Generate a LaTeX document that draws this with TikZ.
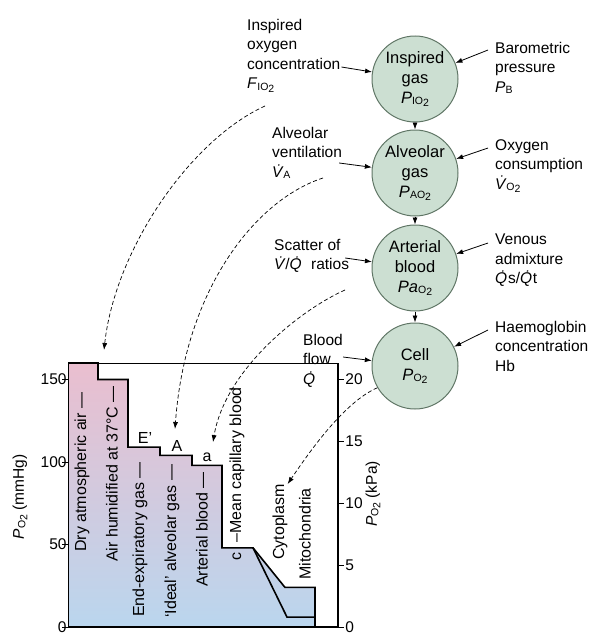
\documentclass[tikz,border=0pt]{standalone}
\usepackage{fontspec}
\setmainfont{Liberation Sans}
\usetikzlibrary{arrows.meta,calc}
\definecolor{cellgreen}{RGB}{204,223,210}
\definecolor{cellrim}{RGB}{96,118,102}
\definecolor{airpink}{RGB}{234,190,207}
\definecolor{tissueblue}{RGB}{186,214,238}
% partial pressure with small subscript, e.g. P_IO2
\newcommand\gp[2]{\textit{#1}{\fontsize{10.5}{10.5}\selectfont\raisebox{-1.5pt}{#2}\raisebox{-3.5pt}{2}}}
\newcommand\gs[2]{\textit{#1}{\fontsize{10.5}{10.5}\selectfont\raisebox{-1.5pt}{#2}}}
\begin{document}
\begin{tikzpicture}[x=1pt,y=-1pt,
every node/.style={font=\fontsize{15.5}{19.5}\selectfont},
main node/.style={circle,draw=cellrim,fill=cellgreen,line width=1pt,minimum size=86pt,inner sep=0pt,align=center,font=\fontsize{16.5}{20}\selectfont},
side label/.style={align=left,inner sep=0pt,anchor=north west},
bar label/.style={rotate=90,anchor=west,inner sep=0pt,font=\fontsize{16}{16}\selectfont},
feed/.style={-{Latex[length=7pt,width=5pt]},line width=.8pt},
link/.style={-{Latex[length=7pt,width=5pt]},dash pattern=on 4pt off 2.5pt,line width=.7pt}]
\useasboundingbox (0,0) rectangle (592,637);

% chain of circles
\node[main node] (insp) at (415,79) {Inspired\\gas\\\gp{P}{IO}};
\node[main node] (alv) at (415,173) {Alveolar\\gas\\\gp{P}{AO}};
\node[main node] (art) at (415,268) {Arterial\\blood\\\gp{Pa}{O}};
\node[main node] (cell) at (415,366) {Cell\\\gp{P}{O}};

\draw [feed] (insp) -- (alv);
\draw [feed] (alv) -- (art);
\draw [feed] (art) -- (cell);

% factors
\node[side label] (fio) at (247,19) {Inspired\\oxygen\\concentration\\\gp{F}{IO}};
\node[side label] (baro) at (495,42) {Barometric\\pressure\\\gs{P}{B}};
\node[side label] (vent) at (272,127) {Alveolar\\ventilation\\\gs{\.V}{A}};
\node[side label] (cons) at (495,139) {Oxygen\\consumption\\\gp{\.V}{O}};
\node[side label] (scat) at (274,239) {Scatter of\\\textit{\.V}/\textit{\.Q}\ \ ratios};
\node[side label] (admx) at (495,234) {Venous\\admixture\\\textit{\.Q}s/\textit{\.Q}t};
\node[side label] (flow) at (303,334) {Blood\\flow\\\textit{\.Q}};
\node[side label] (hb) at (495,321) {Haemoglobin\\concentration\\Hb};

\draw [feed] ($(fio.north east)+(1,48)$) -- (insp);
\draw [feed] ($(baro.north west)+(-7,8)$) -- (insp);
\draw [feed] ($(vent.north east)+(-3,36)$) -- (alv);
\draw [feed] ($(cons.north west)+(-7,9)$) -- (alv);
\draw [feed] ($(scat.north east)+(-4,19)$) -- (art);
\draw [feed] ($(admx.north west)+(-7,9)$) -- (art);
\draw [feed] ($(flow.north east)+(0,23)$) -- (cell);
\draw [feed] ($(hb.north west)+(-7,9)$) -- (cell);

% oxygen cascade
\begin{scope}[shift={(0,627)},y=1.65pt]
\shade[top color=airpink,bottom color=tissueblue] (68,0) -- (68,160) -- (98,160) -- (98,150) -- (128,150) -- (128,109) -- (160,109) -- (160,104) -- (192,104) -- (192,98) -- (222,98) -- (222,48) -- (253,48) -- (285,24) -- (315,24) -- (315,0) -- cycle;
\draw [line width=.7pt] (68,0) -- (68,160) -- (338,160);
\draw [line width=1.2pt] (68,0) -- (338,0);
\draw [line width=1.5pt] (338,0) -- (338,160);
\draw [line width=1.6pt] (68,160) -- (98,160) -- (98,150) -- (128,150) -- (128,109) -- (160,109) -- (160,104) -- (192,104) -- (192,98) -- (222,98) -- (222,48) -- (253,48) -- (285,24) -- (315,24) -- (315,0);
\draw [line width=1.6pt] (253,48) -- (287,6) -- (315,6);
\foreach \v in {0,50,100,150}
  \draw [line width=.8pt] (62,\v) -- (68,\v) node[left,inner sep=1pt] (mm\v) {\v};
\foreach \k in {0,5,10,15,20}
  \draw [line width=.8pt] (338,{7.5*\k}) -- (344,{7.5*\k}) node[right,inner sep=1pt] (kp\k) {\k};
\end{scope}

\node[rotate=90] (ylmm) at (20,497) {\gp{P}{O} (mmHg)};
\node[rotate=90] (ylkp) at (373,494) {\gp{P}{O} (kPa)};

\node[bar label] (dry) at (82,552) {Dry atmospheric air —};
\node[bar label] (humid) at (112,562) {Air humidified at 37°C —};
\node[bar label] (endexp) at (140,617) {End-expiratory gas —};
\node[bar label] (ideal) at (172,618) {`Ideal' alveolar gas —};
\node[bar label] (artb) at (202,587) {Arterial blood —};
\node[bar label] (capc) at (237,561) {c};
\node[bar label] (mean) at (237,543) {–Mean capillary blood};
\node[bar label] (cyto) at (280,560) {Cytoplasm};
\node[bar label] (mito) at (305,580) {Mitochondria};

\node[font=\fontsize{16}{16}\selectfont] (eprime) at (145,438) {E'};
\node[font=\fontsize{16}{16}\selectfont] (alvA) at (177,446) {A};
\node[font=\fontsize{16}{16}\selectfont] (arta) at (207,457) {a};

% where each level sits in the cascade
\coordinate (s1) at (265,106);
\coordinate (s2) at (323,178);
\coordinate (s3) at (345,290);
\coordinate (tip1) at (104,350);
\draw [link] (s1) .. controls (190,140) and (115,250) .. (tip1);
\draw [link] (s2) .. controls (255,200) and (185,290) .. ($(alvA.north)+(-2,-8)$);
\draw [link] (s3) .. controls (300,310) and (225,370) .. ($(arta.north)+(6,-7)$);
\draw [link] (cell.210) .. controls (345,402) and (312,448) .. (cyto.south east);

\end{tikzpicture}
\end{document}
